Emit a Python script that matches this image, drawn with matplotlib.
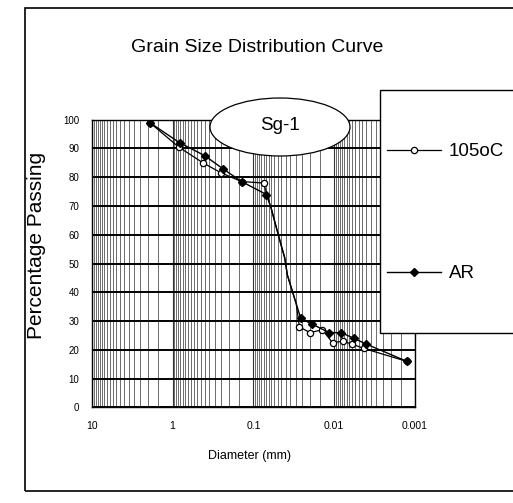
import numpy as np
import matplotlib
matplotlib.use('Agg')
import matplotlib.pyplot as plt
from matplotlib.patches import Ellipse, Rectangle
from matplotlib.ticker import FixedLocator, NullFormatter

plt.rcParams['font.family'] = ['Liberation Sans', 'DejaVu Sans']

# AR (air dried) - filled diamonds
ar_d = [1.92, 0.82, 0.40, 0.24, 0.14, 0.069, 0.060, 0.055, 0.045, 0.041, 0.038, 0.0295,
        0.026, 0.019, 0.0115, 0.0082, 0.0057, 0.0040, 0.00126]
ar_p = [99, 92, 87.5, 83, 78.5, 74, 69, 65, 56, 52, 46, 36,
        31, 29, 26, 26, 24, 22, 16]
ar_marks = [0, 1, 2, 3, 4, 5, 12, 13, 14, 15, 16, 17, 18]

# 105oC (oven dried) - open circles
oven_d = [1.92, 0.84, 0.42, 0.25, 0.14, 0.075, 0.060, 0.055, 0.045, 0.041, 0.038, 0.0295,
          0.027, 0.020, 0.014, 0.0105, 0.0078, 0.0060, 0.0043, 0.00126]
oven_p = [99, 90.5, 85, 81.5, 78.5, 78, 69, 65, 56, 52, 46, 36,
          28, 26, 27, 22.5, 23, 22, 20.5, 16]
oven_marks = [0, 1, 2, 3, 4, 5, 12, 13, 14, 15, 16, 17, 18, 19]

y_ticks = list(range(0, 101, 10))
x_ticks = [10, 1, 0.1, 0.01, 0.001]
x_labels = ['10', '1', '0.1', '0.01', '0.001']

fig = plt.figure(figsize=(5.13, 5.03), dpi=100)
ax = fig.add_axes([0.179, 0.19, 0.630, 0.572])

# vertical log grid (dense minor lines)
minor = []
for dec in [0.001, 0.01, 0.1, 1]:
    for s in np.arange(1.5, 10, 0.5):
        minor.append(dec * s)
ax.set_xscale('log')
ax.set_xlim(10, 0.001)
ax.set_ylim(0, 100)
ax.xaxis.set_minor_locator(FixedLocator(minor))
ax.xaxis.set_minor_formatter(NullFormatter())
ax.set_xticks(x_ticks)
ax.set_xticklabels(x_labels)
ax.set_yticks(y_ticks)
ax.grid(True, which='minor', axis='x', color='#555555', lw=0.6)
ax.grid(True, which='major', axis='x', color='#333333', lw=0.8)
ax.grid(True, which='major', axis='y', color='black', lw=1.4)
ax.tick_params(axis='x', which='both', length=0, labelsize=7.5, pad=10)
ax.tick_params(axis='y', which='both', length=0, labelsize=7, pad=9)
for sp in ax.spines.values():
    sp.set_linewidth(1.0)

ax.plot(oven_d, oven_p, color='black', lw=0.9, marker='o', ms=4.5, mfc='white',
        mec='black', mew=0.9, markevery=oven_marks, label='105oC', zorder=3)
ax.plot(ar_d, ar_p, color='black', lw=1.0, marker='D', ms=4.5, mfc='black',
        mec='black', markevery=ar_marks, label='AR', zorder=4)

fig.text(250 / 513, 1 - 456 / 503, 'Diameter (mm)', ha='center', va='center', fontsize=9)
fig.text(37 / 513, 1 - 245 / 503, 'Percentage Passing', ha='center', va='center',
         fontsize=15, rotation=90)

# outer chart frame
fig.patches.append(Rectangle((25 / 513, 0.024), 1.2, 0.96, transform=fig.transFigure,
                             fill=False, edgecolor='black', lw=1.2))

fig.text(257 / 513, 1 - 48 / 503, 'Grain Size Distribution Curve', ha='center', va='center',
         fontsize=14)

# Sg-1 label ellipse
fig.patches.append(Ellipse((280 / 513, 1 - 127 / 503), 140 / 513, 58 / 503,
                           transform=fig.transFigure, facecolor='white',
                           edgecolor='black', lw=0.9, zorder=5))
fig.text(280 / 513, 1 - 126 / 503, 'Sg-1', ha='center', va='center', fontsize=13.5, zorder=6)

# legend box
fig.patches.append(Rectangle((380 / 513, 1 - 333 / 503), 0.5, 243 / 503,
                             transform=fig.transFigure, facecolor='white',
                             edgecolor='black', lw=1.0, zorder=5))
leg = fig.legend(loc='upper left', bbox_to_anchor=(387 / 513, 1 - 143 / 503), fontsize=13.5,
                 frameon=False, labelspacing=5.6, borderpad=0, handlelength=2.9,
                 handletextpad=0.4, borderaxespad=0)
leg.set_zorder(6)

fig.savefig('out.png', dpi=100)
